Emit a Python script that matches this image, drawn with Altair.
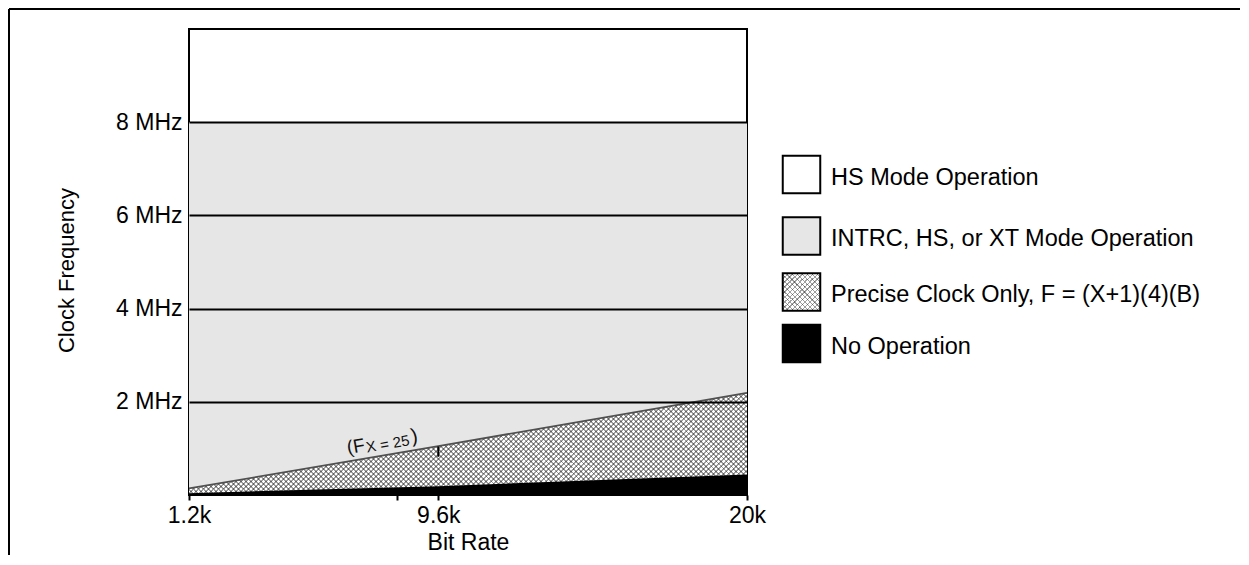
import altair as alt
import pandas as pd

# ---------------- data ----------------
bit_rate = [1200, 9600, 20000]            # bit rate (bps)
fx25_limit = [0.14, 1.05, 2.19]           # MHz, upper edge of "precise clock only" (Fx = 25)
no_op_limit = [0.04, 0.19, 0.44]          # MHz, upper edge of "no operation"
intrc_max = 8                             # MHz, upper edge of INTRC/HS/XT region
freq_max = 10                             # MHz, top of chart

y_ticks = [2, 4, 6, 8]
y_tick_labels = ["2 MHz", "4 MHz", "6 MHz", "8 MHz"]
x_ticks = [1200, 8200, 9600, 20000]
x_tick_labels = ["1.2k", "", "9.6k", "20k"]

marker_x = [9600]
marker_lo = [0.82]
marker_hi = [1.04]

ann_text = ["(F", "X = 25", ")"]
ann_x = [6557, 7197, 8713]
ann_y = [0.88, 0.91, 1.12]
ann_size = [19, 15, 20]

legend_labels = [
    "HS Mode Operation",
    "INTRC, HS, or XT Mode Operation",
    "Precise Clock Only, F = (X+1)(4)(B)",
    "No Operation",
]
legend_fills = ["white", "#e6e6e6", "hatch", "black"]

# ---------------- layout / style ----------------
PLOT_W, PLOT_H = 558, 466
FONT = "Liberation Sans"
FS = 23
LFS = 23.5
GRAY = "#e6e6e6"
SIDE = 37.5
LEG_SQ_X = 612.5
LEG_TXT_X = 642
LEG_ROW_Y = [145.5, 207, 263, 314.5]   # legend row centres (layout, px)
LEG_TXT_DY = 3


def hatch(total, x1, y1, x2, y2, bg, fg, period=5.0, line=1.2):
    stops = []
    k = 0
    while k * period <= total:
        a = k * period / total
        b = min((k * period + line) / total, 1.0)
        c = min((k + 1) * period / total, 1.0)
        stops += [
            alt.GradientStop(offset=a, color=fg),
            alt.GradientStop(offset=b, color=fg),
            alt.GradientStop(offset=b, color=bg),
            alt.GradientStop(offset=c, color=bg),
        ]
        k += 1
    return alt.LinearGradient(gradient="linear", stops=stops, x1=x1, y1=y1, x2=x2, y2=y2)


def hatch_pair(W, H):
    s = W * (W + H) / (W * W + H * H)
    g1 = hatch(W + H, 0, 0, s, s * H / W, "white", "#a0a0a0")
    g2 = hatch(W + H, 0, 1, s, 1 - s * H / W, "rgba(0,0,0,0)", "rgba(0,0,0,0.38)")
    return g1, g2


df = pd.DataFrame({"rate": bit_rate, "fx": fx25_limit, "noop": no_op_limit})

xs = alt.Scale(domain=[bit_rate[0], bit_rate[-1]], nice=False, zero=False)
ys = alt.Scale(domain=[0, freq_max], nice=False)

x_label_expr = " : ".join(
    f"datum.value == {v} ? '{t}'" for v, t in zip(x_ticks, x_tick_labels)
) + " : ''"
y_label_expr = " : ".join(
    f"datum.value == {v} ? '{t}'" for v, t in zip(y_ticks, y_tick_labels)
) + " : ''"

x_axis = alt.Axis(
    values=x_ticks, labelExpr=x_label_expr, grid=False, domain=False,
    ticks=True, tickSize=5, tickWidth=2, tickColor="black", labelFlush=False,
    labelFont=FONT, labelFontSize=FS, labelColor="black", labelPadding=4,
    title="Bit Rate", titleFont=FONT, titleFontSize=FS, titleFontWeight="normal",
    titleColor="black", titleX=PLOT_W / 2, titleY=54, titleBaseline="alphabetic",
    zindex=1,
)
y_axis = alt.Axis(
    values=y_ticks, labelExpr=y_label_expr, grid=True, gridColor="black",
    gridWidth=2, gridOpacity=1, domain=False, ticks=False, tickSize=0,
    labelFont=FONT, labelFontSize=FS, labelColor="black", labelPadding=7,
    title="Clock Frequency", titleFont=FONT, titleFontSize=22,
    titleFontWeight="normal", titleColor="black", titleAngle=270,
    titleX=-115.5, titleY=241, titleBaseline="alphabetic", titleAlign="center",
    zindex=1,
)

base = alt.Chart(df)

hx = alt.X("rate:Q", scale=xs, axis=x_axis)
W = PLOT_W
H = max(fx25_limit) / freq_max * PLOT_H
g1, g2 = hatch_pair(W, H)

hatch_a = base.mark_area(fill=g1, strokeWidth=0).encode(
    x=hx, y=alt.Y("fx:Q", scale=ys, axis=y_axis)
)
hatch_b = base.mark_area(fill=g2, strokeWidth=0).encode(x="rate:Q", y="fx:Q")
gray = base.mark_area(fill=GRAY, strokeWidth=0).encode(
    x="rate:Q", y="fx:Q", y2=alt.datum(intrc_max)
)
black = base.mark_area(fill="black", strokeWidth=0).encode(x="rate:Q", y="noop:Q")
fx_line = base.mark_line(color="#505050", strokeWidth=1.8).encode(x="rate:Q", y="fx:Q")

marker = alt.Chart(
    pd.DataFrame({"x": marker_x, "lo": marker_lo, "hi": marker_hi})
).mark_rule(color="black", strokeWidth=2).encode(x="x:Q", y="lo:Q", y2="hi:Q")

ann = alt.Chart(
    pd.DataFrame({"t": ann_text, "x": ann_x, "y": ann_y, "s": ann_size})
).mark_text(
    align="left", baseline="alphabetic", angle=350, font=FONT, color="#111"
).encode(x="x:Q", y="y:Q", text="t:N", size=alt.Size("s:Q", scale=None))

# outer frame of the figure (decoration)
frame_top = alt.Chart(df).mark_rule(color="black", strokeWidth=2).encode(
    x=alt.value(-180), x2=alt.value(1051), y=alt.value(-20)
)
frame_left = alt.Chart(df).mark_rule(color="black", strokeWidth=2).encode(
    x=alt.value(-180), y=alt.value(-20), y2=alt.value(526)
)

layers = [hatch_a, hatch_b, gray, black, fx_line, marker, ann, frame_top, frame_left]

# ---------------- legend ----------------
lg1, lg2 = hatch_pair(SIDE, SIDE)
for label, fill, ry in zip(legend_labels, legend_fills, LEG_ROW_Y):
    ldf = pd.DataFrame({"label": [label]})
    lb = alt.Chart(ldf)
    if fill == "hatch":
        layers.append(lb.mark_square(size=SIDE * SIDE, strokeWidth=0, fill=lg1, opacity=1)
                      .encode(x=alt.value(LEG_SQ_X), y=alt.value(ry)))
        layers.append(lb.mark_square(size=SIDE * SIDE, strokeWidth=0, fill=lg2, opacity=1)
                      .encode(x=alt.value(LEG_SQ_X), y=alt.value(ry)))
    else:
        layers.append(lb.mark_square(size=SIDE * SIDE, strokeWidth=0, fill=fill, opacity=1)
                      .encode(x=alt.value(LEG_SQ_X), y=alt.value(ry)))
    layers.append(lb.mark_square(size=SIDE * SIDE, fillOpacity=0, stroke="black",
                                 strokeWidth=2, opacity=1)
                  .encode(x=alt.value(LEG_SQ_X), y=alt.value(ry)))
    layers.append(lb.mark_text(align="left", baseline="middle", font=FONT,
                               fontSize=LFS, color="black")
                  .encode(x=alt.value(LEG_TXT_X), y=alt.value(ry + LEG_TXT_DY),
                          text="label:N"))

chart = (
    alt.layer(*layers)
    .properties(
        width=PLOT_W,
        height=PLOT_H,
        padding={"left": 181, "top": 21, "right": 493, "bottom": 60},
        autosize=alt.AutoSizeParams(type="none"),
    )
    .configure(font=FONT)
    .configure_view(stroke="black", strokeWidth=2)
)

chart.save("out.html", embed_options={"renderer": "svg", "actions": False})
